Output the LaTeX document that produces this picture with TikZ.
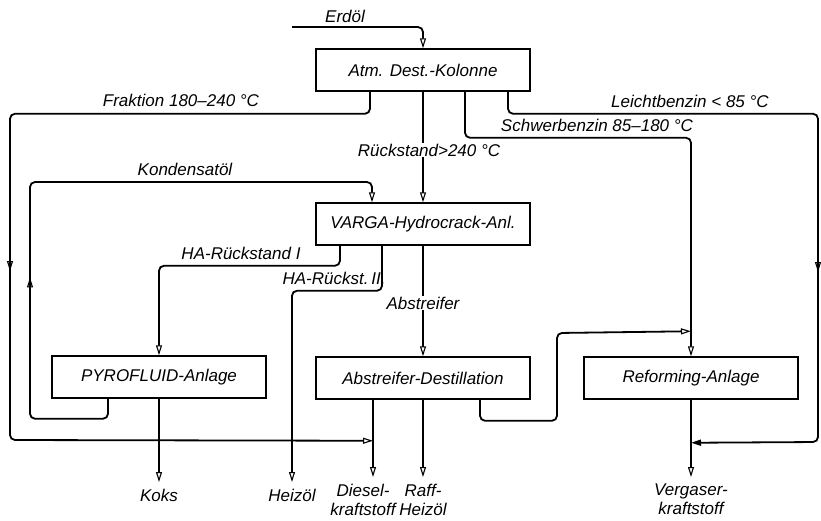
\documentclass[tikz,border=0pt]{standalone}
\usepackage{fontspec}
\setmainfont{Liberation Sans}
\usetikzlibrary{arrows.meta,decorations.markings}

\begin{document}
\begin{tikzpicture}[
  x=1pt,y=-1pt,
  every node/.style={font=\itshape\fontsize{17}{19}\selectfont},
  plant/.style={draw,line width=1.5pt,minimum width=214pt,minimum height=42pt,inner sep=2pt},
  tag/.style={inner sep=1pt},
  product/.style={anchor=north,align=center,inner xsep=1pt,inner ysep=7pt},
  pipe/.style={line width=1.8pt,rounded corners=5pt},
  flow/.style={pipe,-{Triangle[open,length=10pt,width=6pt,line width=1.1pt]}},
  mid arrow/.style={postaction={decorate},decoration={markings,
    mark=at position #1 with {\arrow{Triangle[open,length=10pt,width=6pt,line width=1.1pt]}}}}
]
  \useasboundingbox (0,0) rectangle (821,520);

  \node[plant] (atm) at (423,70) {Atm. Dest.-Kolonne};
  \node[plant] (varga) at (423,224) {VARGA-Hydrocrack-Anl.};
  \node[plant] (pyro) at (159,377) {PYROFLUID-Anlage};
  \node[plant] (abstr) at (423,378) {Abstreifer-Destillation};
  \node[plant] (reform) at (691,378) {Reforming-Anlage};

  \node[product] (koks) at (159,482) {Koks};
  \node[product] (heizoel) at (292,482) {Heizöl};
  \node[product] (diesel) at (363,477) {Diesel-\\kraftstoff};
  \node[product] (raff) at (423,477) {Raff-\\Heizöl};
  \node[product] (vergaser) at (691,477) {Vergaser-\\kraftstoff};

  \coordinate (erdoel) at (292,27);

  % main column
  \draw[flow] (erdoel) -| (atm.north);
  \draw[flow] (atm) -- (varga);
  \draw[flow] (varga) -- (abstr);
  \draw[flow] (pyro) -- (koks);
  \draw[flow] (abstr) -- (raff);
  \draw[flow] (reform) -- (vergaser);
  \draw[flow] ([xshift=-50pt]abstr.south) -- ([xshift=-50pt]abstr.south |- diesel.north);

  % side streams
  \draw[flow,mid arrow=535pt] ([xshift=-53pt]atm.south) -- ++(0,22) -| (10,440)
    -- ([xshift=-50pt,yshift=-41pt]abstr.south);
  \draw[flow] ([xshift=42pt]atm.south) -- ++(0,46) -| (reform.north);
  \draw[pipe,mid arrow=486pt,-{Triangle[length=10pt,width=6pt]}] ([xshift=85pt]atm.south)
    -- ++(0,22) -| (818,442) -- ([yshift=-43pt]reform.south);
  \draw[flow,mid arrow=235pt] ([xshift=-51pt]pyro.south) -- ++(0,20) -| (30,182)
    -| ([xshift=-51pt]varga.north);
  \draw[flow] ([xshift=-83pt]varga.south) -- ++(0,20) -| (pyro.north);
  \draw[flow] ([xshift=-41pt]varga.south) -- ++(0,45) -| (heizoel.north);
  \draw[flow] ([xshift=57pt]abstr.south) -- ++(0,21) -| (557,333)
    -- ([yshift=25pt]reform.north);

  % stream labels
  \node[tag] (erdoel-tag) at (345,16) {Erdöl};
  \node[tag] (fraktion-tag) at (181,100) {Fraktion 180–240 °C};
  \node[tag] (kondensat-tag) at (185,169) {Kondensatöl};
  \node[tag,fill=white] (rueckstand-tag) at (429,150) {Rückstand>240 °C};
  \node[tag] (leicht-tag) at (690,101) {Leichtbenzin < 85 °C};
  \node[tag] (schwer-tag) at (597,125) {Schwerbenzin 85–180 °C};
  \node[tag] (ha1-tag) at (241,253) {HA-Rückstand I};
  \node[tag] (ha2-tag) at (334,278) {HA-Rückst.\,II.};
  \node[tag,fill=white] (abstreifer-tag) at (423,303) {Abstreifer};
\end{tikzpicture}
\end{document}
